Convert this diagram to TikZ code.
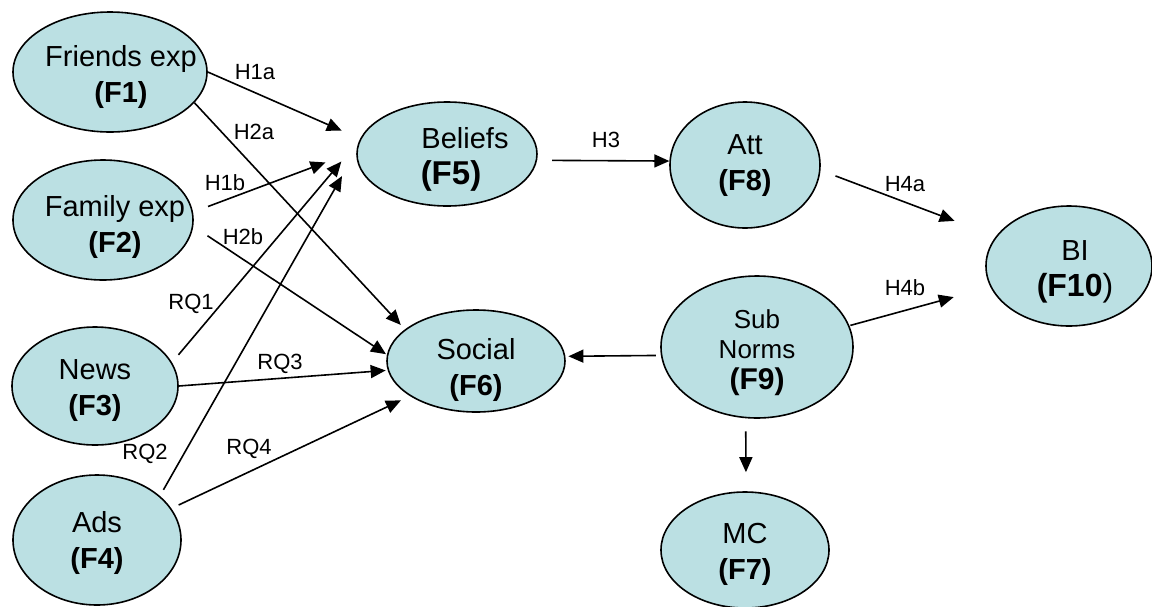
\documentclass[tikz,border=0pt]{standalone}
\usepackage{fontspec}
\setmainfont{Liberation Sans}
\usetikzlibrary{arrows.meta,shapes.geometric}
\definecolor{factorfill}{RGB}{187,224,227}
\tikzstyle{factor}=[ellipse, draw=black, line width=1.6pt, fill=factorfill, text=black,
                inner xsep=-30pt, inner ysep=-10pt, font=\fontsize{29}{36}\selectfont]
\tikzstyle{link}=[-{Triangle[length=15pt,width=13pt]}, line width=1.6pt, draw=black]
\tikzstyle{hyp}=[font=\fontsize{22}{26}\selectfont, inner sep=0pt, text=black]
% text of a factor: #1 extra space on the left, #2 drop, #3 lines
\newcommand{\facttext}[3]{\raisebox{-#2}[\height][\depth]{\hspace*{#1}\begin{tabular}{@{}c@{}}#3\end{tabular}}}
\newcommand{\fbig}[1]{{\fontsize{33}{36}\selectfont\bfseries #1}}

\begin{document}
\begin{tikzpicture}[x=1pt, y=-1pt]
    \useasboundingbox (0,0) rectangle (1152,606);

    % Draw the antecedent factors
    \node[factor, minimum width=194pt, minimum height=120pt] (F1) at (110,72)
        {\facttext{22pt}{5pt}{Friends exp\\\textbf{(F1)}}};
    \node[factor, minimum width=180pt, minimum height=120pt] (F2) at (103,220)
        {\facttext{24pt}{7pt}{Family exp\\\textbf{(F2)}}};
    \node[factor, minimum width=166pt, minimum height=118pt] (F3) at (95,386)
        {\facttext{0pt}{4pt}{News\\\textbf{(F3)}}};
    \node[factor, minimum width=168pt, minimum height=130pt] (F4) at (97,540)
        {\facttext{0pt}{3pt}{Ads\\\textbf{(F4)}}};

    % Draw the middle factors
    \node[factor, minimum width=180pt, minimum height=104pt] (F5) at (447,154)
        {\facttext{0pt}{5pt}{\hspace*{36pt}Beliefs\\\hspace*{8pt}\fbig{(F5)}}};
    \node[factor, minimum width=178pt, minimum height=102pt] (F6) at (476,361)
        {\facttext{0pt}{9pt}{Social\\\textbf{(F6)}}};
    \node[factor, minimum width=150pt, minimum height=126pt] (F8) at (745,165)
        {\facttext{0pt}{0pt}{Att\\\textbf{(F8)}}};
    \node[factor, minimum width=192pt, minimum height=142pt, font=\fontsize{26}{30}\selectfont] (F9) at (757,347)
        {\facttext{0pt}{6pt}{Sub\\Norms\\{\fontsize{30}{30}\selectfont\bfseries (F9)}}};
    \node[factor, minimum width=168pt, minimum height=116pt] (F7) at (745,550)
        {\facttext{0pt}{4pt}{MC\\\textbf{(F7)}}};

    % Draw the outcome factor
    \node[factor, minimum width=166pt, minimum height=120pt] (F10) at (1069,266)
        {\facttext{12pt}{5pt}{BI\\{\fontsize{32}{36}\selectfont\textbf{(F10})}}};

    % Connect the factors
    \foreach \from/\to/\s/\t in {F1.0/F5.170/0/20, F1.-20/F6.156/0/6, F2.5/F5.178/16/33,
                                 F2.-4/F6.176/17/1, F3.17/F5.171/10/28, F4.35/F5.178/7/29,
                                 F3.0/F6.186/0/2, F4.23/F6.208/8/10, F5.-4/F8.177/15/0,
                                 F8.-4/F10.158/16/44, F9.13/F10.195/1/38,
                                 F9.185/F6.3/5/3, F9.261/F7.89/13/19}
        \draw[link, shorten <=\s pt, shorten >=\t pt] (\from) -- (\to);

    % Annotate the hypotheses
    \node[hyp] (lH1a) at (255,72) {H1a};
    \node[hyp] (lH2a) at (254,132) {H2a};
    \node[hyp] (lH1b) at (225,183) {H1b};
    \node[hyp] (lH2b) at (243,237) {H2b};
    \node[hyp] (lRQ1) at (191,304) {RQ1};
    \node[hyp] (lRQ2) at (145,454) {RQ2};
    \node[hyp] (lRQ3) at (280,364) {RQ3};
    \node[hyp] (lRQ4) at (249,449) {RQ4};
    \node[hyp] (lH3) at (606,140) {H3};
    \node[hyp] (lH4a) at (905,184) {H4a};
    \node[hyp] (lH4b) at (905,288) {H4b};
\end{tikzpicture}
\end{document}
